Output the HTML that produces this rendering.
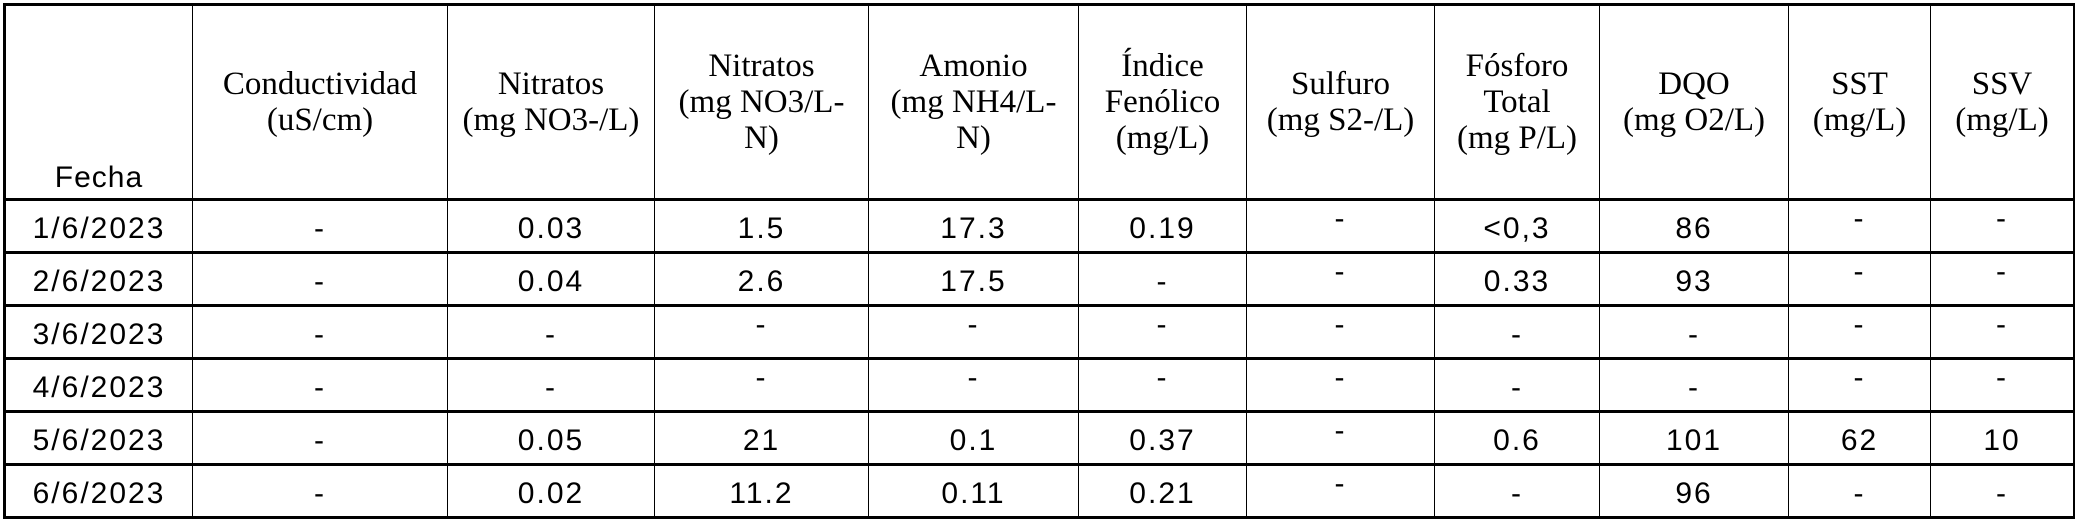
<!DOCTYPE html>
<html><head><meta charset="utf-8"><style>
html,body{margin:0;padding:0;background:#fff;width:2075px;height:526px;overflow:hidden}
table{position:absolute;left:3px;top:3px;border-collapse:collapse;table-layout:fixed;width:2070px}
td,th{padding:0;border-left:1.5px solid #000;border-right:1.5px solid #000;border-top:3px solid #000;border-bottom:3px solid #000;text-align:center;color:#000;white-space:nowrap}
th{font-family:"Liberation Serif",serif;font-weight:normal;font-size:33px;line-height:36px;vertical-align:middle;height:190px}
th.fecha{font-family:"Liberation Sans",sans-serif;font-size:30px;vertical-align:bottom;padding-bottom:2px;letter-spacing:1px}
td{font-family:"Liberation Sans",sans-serif;font-size:30px;letter-spacing:2px;vertical-align:bottom;padding-bottom:4px;height:46px;line-height:36px}
td span.up{position:relative;top:-10px}
tr>*:first-child{border-left:3px solid #000}
tr>*:last-child{border-right:3px solid #000}
</style></head><body>
<table>
<colgroup><col style="width:188px"><col style="width:255px"><col style="width:207px"><col style="width:214px"><col style="width:210px"><col style="width:168px"><col style="width:188px"><col style="width:165px"><col style="width:189px"><col style="width:142px"><col style="width:144px"></colgroup>
<tr>
<th class="fecha">Fecha</th>
<th>Conductividad<br>(uS/cm)</th>
<th>Nitratos<br>(mg NO3-/L)</th>
<th>Nitratos<br>(mg NO3/L-<br>N)</th>
<th>Amonio<br>(mg NH4/L-<br>N)</th>
<th>Índice<br>Fenólico<br>(mg/L)</th>
<th>Sulfuro<br>(mg S2-/L)</th>
<th>Fósforo<br>Total<br>(mg P/L)</th>
<th>DQO<br>(mg O2/L)</th>
<th>SST<br>(mg/L)</th>
<th>SSV<br>(mg/L)</th>
</tr>
<tr>
<td>1/6/2023</td><td>-</td><td>0.03</td><td>1.5</td><td>17.3</td><td>0.19</td><td><span class="up">-</span></td><td>&lt;0,3</td><td>86</td><td><span class="up">-</span></td><td><span class="up">-</span></td>
</tr>
<tr>
<td>2/6/2023</td><td>-</td><td>0.04</td><td>2.6</td><td>17.5</td><td>-</td><td><span class="up">-</span></td><td>0.33</td><td>93</td><td><span class="up">-</span></td><td><span class="up">-</span></td>
</tr>
<tr>
<td>3/6/2023</td><td>-</td><td>-</td><td><span class="up">-</span></td><td><span class="up">-</span></td><td><span class="up">-</span></td><td><span class="up">-</span></td><td>-</td><td>-</td><td><span class="up">-</span></td><td><span class="up">-</span></td>
</tr>
<tr>
<td>4/6/2023</td><td>-</td><td>-</td><td><span class="up">-</span></td><td><span class="up">-</span></td><td><span class="up">-</span></td><td><span class="up">-</span></td><td>-</td><td>-</td><td><span class="up">-</span></td><td><span class="up">-</span></td>
</tr>
<tr>
<td>5/6/2023</td><td>-</td><td>0.05</td><td>21</td><td>0.1</td><td>0.37</td><td><span class="up">-</span></td><td>0.6</td><td>101</td><td>62</td><td>10</td>
</tr>
<tr>
<td>6/6/2023</td><td>-</td><td>0.02</td><td>11.2</td><td>0.11</td><td>0.21</td><td><span class="up">-</span></td><td>-</td><td>96</td><td>-</td><td>-</td>
</tr>
</table>
</body></html>
